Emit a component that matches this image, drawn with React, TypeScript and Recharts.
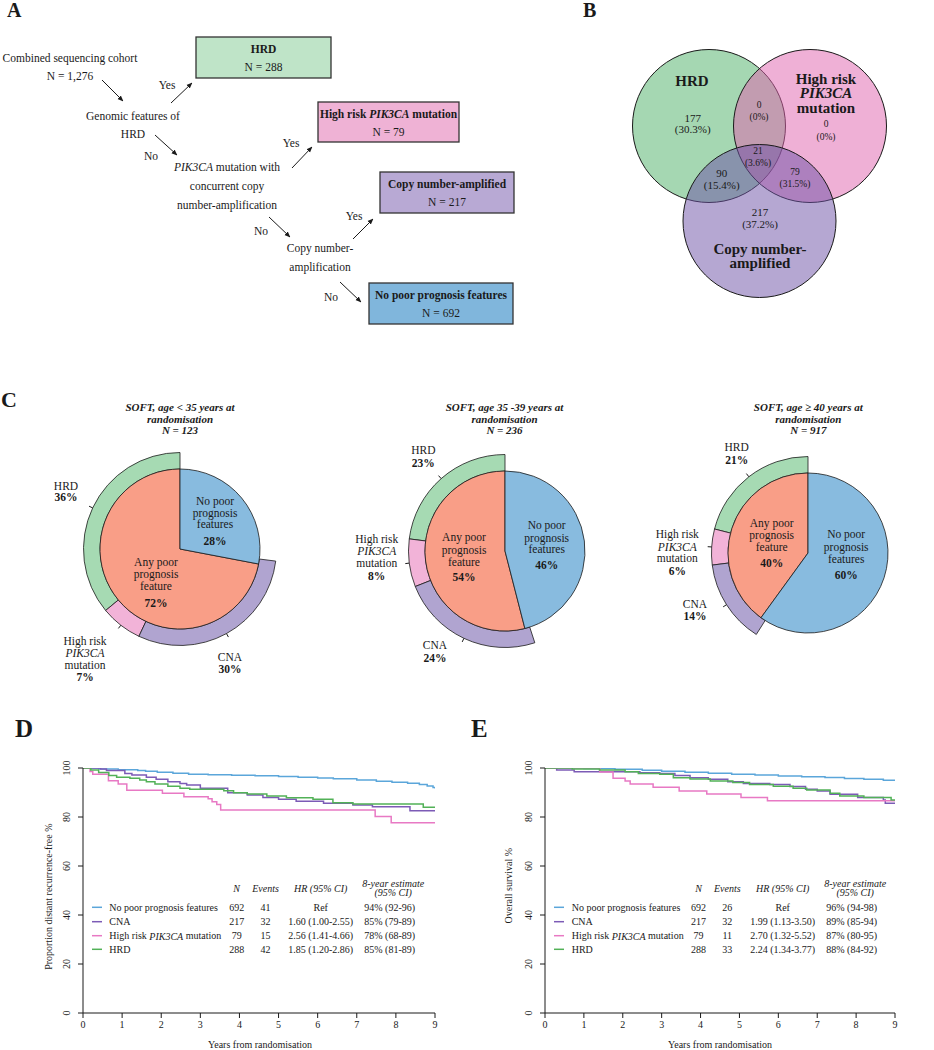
import React from "react"
import { LineChart, Line, XAxis, YAxis, PieChart, Pie, Cell, ScatterChart, Scatter } from "recharts"

const SERIF = '"Liberation Serif", "Times New Roman", serif'
const INK = "#1a1a1a"

// panel A: flowchart counts
const cohortTotal = "1,276"
const flowN = [288, 79, 217, 692]

// panel B: venn region counts and shares
const vennCounts = { hrd: 177, hrdPik: 0, pik: 0, all: 21, hrdCna: 90, pikCna: 79, cna: 217 }
const vennPct = { hrd: 30.3, hrdPik: 0, pik: 0, all: 3.6, hrdCna: 15.4, pikCna: 31.5, cna: 37.2 }

// panel C: SOFT age groups
const ageTitles = ["SOFT, age < 35 years at", "SOFT, age 35 -39 years at", "SOFT, age \u2265 40 years at"]
const ageN = [123, 236, 917]
const anyPoorPct = [72, 54, 40]
const noPoorPct = [28, 46, 60]
const hrdPct = [36, 23, 21]
const pik3caPct = [7, 8, 6]
const cnaPct = [30, 24, 14]

// panel D/E: Kaplan-Meier curves, [years, %]
const yearTicks = [0, 1, 2, 3, 4, 5, 6, 7, 8, 9]
const pctTicks = [0, 20, 40, 60, 80, 100]

const dfsNoPoor = [[0, 100], [0.4, 99.6], [0.9, 99.3], [1.4, 99.0], [1.6, 98.7], [1.9, 98.3], [2.3, 97.9], [2.7, 97.5], [3.2, 97.2], [3.8, 97.0], [4.4, 96.8], [5, 96.5], [5.5, 96.2], [6, 95.9], [6.4, 95.6], [7, 95.1], [7.5, 94.6], [7.9, 94.2], [8.3, 93.8], [8.6, 93.3], [8.8, 92.7], [8.95, 92.0], [9, 91.6]]
const dfsCna = [[0, 100], [0.45, 99.6], [0.6, 99.0], [1.07, 97.8], [1.25, 97.1], [1.62, 96.2], [1.87, 95.4], [2.17, 94.4], [2.48, 93.7], [2.65, 93.1], [3.0, 91.7], [3.7, 89.9], [4.2, 89.0], [4.6, 88.0], [5.0, 87.2], [5.45, 86.4], [6.15, 85.6], [6.9, 84.9], [7.4, 84.2], [8.36, 82.6], [9, 82.6]]
const dfsPik = [[0, 100], [0.18, 98.6], [0.25, 97.4], [0.65, 94.8], [0.9, 93.5], [1.12, 90.9], [2.03, 89.7], [2.58, 88.3], [3.2, 87.4], [3.3, 86.2], [3.42, 85.1], [3.52, 82.9], [7.47, 80.2], [7.88, 77.7], [9, 77.7]]
const dfsHrd = [[0, 100], [0.2, 99.2], [0.4, 98.2], [0.66, 96.9], [0.86, 96.2], [1.2, 95.8], [1.45, 95.1], [1.62, 94.4], [1.84, 93.5], [2.17, 92.6], [2.48, 91.7], [2.73, 91.3], [3.6, 90.7], [3.85, 89.9], [4.2, 89.4], [4.7, 88.6], [5.2, 87.9], [5.88, 87.2], [6.39, 85.8], [6.9, 85.3], [8.7, 84.0], [9, 84.0]]

const osNoPoor = [[0, 100], [1, 99.8], [1.8, 99.5], [2.5, 99.1], [3, 98.7], [3.6, 98.3], [4.2, 97.9], [4.8, 97.5], [5.4, 97.1], [6, 96.7], [6.6, 96.4], [7.2, 96.1], [7.7, 95.7], [8.2, 95.4], [8.7, 95.0], [9, 94.8]]
const osCna = [[0, 100], [0.3, 99.2], [0.75, 98.5], [2.44, 98.1], [2.95, 97.8], [3.34, 96.9], [3.73, 96.0], [4.2, 95.4], [4.7, 94.4], [5.1, 93.7], [5.78, 93.3], [6.3, 92.4], [6.7, 91.3], [7.0, 90.6], [7.33, 89.3], [8.04, 88.0], [8.7, 86.9], [8.75, 85.6], [9, 85.6]]
const osPik = [[0, 100], [1.41, 98.4], [1.75, 95.8], [2.06, 94.7], [2.19, 93.5], [2.78, 92.1], [3.45, 90.6], [4.16, 89.4], [5.04, 88.0], [5.72, 86.6], [9, 86.6]]
const osHrd = [[0, 100], [0.7, 99.6], [1.4, 99.2], [2.06, 98.5], [2.4, 97.8], [2.95, 97.4], [3.3, 96.0], [3.73, 95.5], [4.25, 94.7], [4.83, 94.1], [5.26, 93.3], [5.87, 92.6], [6.38, 91.7], [6.73, 91.0], [7.33, 89.7], [7.58, 88.6], [8.2, 88.0], [8.9, 86.9], [9, 86.9]]

const kmNames = ["No poor prognosis features", "CNA", "High risk PIK3CA mutation", "HRD"]
const kmColors = ["#5ba6da", "#7c5bb6", "#e879c4", "#52b157"]
const groupN = [692, 217, 79, 288]
const dfsEvents = [41, 32, 15, 42]
const dfsHR = ["Ref", "1.60 (1.00-2.55)", "2.56 (1.41-4.66)", "1.85 (1.20-2.86)"]
const dfsEst = ["94% (92-96)", "85% (79-89)", "78% (68-89)", "85% (81-89)"]
const osEvents = [26, 32, 11, 33]
const osHR = ["Ref", "1.99 (1.13-3.50)", "2.70 (1.32-5.52)", "2.24 (1.34-3.77)"]
const osEst = ["96% (94-98)", "89% (85-94)", "87% (80-95)", "88% (84-92)"]

const toPts = (arr: number[][]) => arr.map(([t, s]) => ({ t, s }))

// colours
const C_GREEN = "#a6dab3"
const C_PINK = "#f2b3d8"
const C_PURPLE = "#b0a4d0"
const C_BLUE = "#88bbdf"
const C_SALMON = "#f99e87"

function T({ x, y, children, size = 11.5, bold = false, italic = false, anchor = "middle" }: any) {
  return (
    <text x={x} y={y} fontSize={size} fontWeight={bold ? "bold" : "normal"} fontStyle={italic ? "italic" : "normal"}
      textAnchor={anchor} dominantBaseline="central" fill={INK}>
      {children}
    </text>
  )
}

const It = ({ children }: any) => <tspan fontStyle="italic">{children}</tspan>

function Arrow({ x1, y1, x2, y2 }: any) {
  return <line x1={x1} y1={y1} x2={x2} y2={y2} stroke={INK} strokeWidth={1} markerEnd="url(#ah)" />
}

function Box({ x, y, w, h, fill, title, n }: any) {
  return (
    <g>
      <rect x={x} y={y} width={w} height={h} fill={fill} stroke="#333" strokeWidth={1.3} />
      <T x={x + w / 2} y={y + 12} bold>{title}</T>
      <T x={x + w / 2} y={y + 30}>N = {n}</T>
    </g>
  )
}

function RotTick(props: any) {
  const { x, y, payload } = props
  const tx = x - 6
  return (
    <text x={tx} y={y} transform={`rotate(-90 ${tx} ${y})`} textAnchor="middle" fontSize={10} fill={INK} fontFamily={SERIF}>
      {payload.value}
    </text>
  )
}

function KMChart({ left, width, series }: any) {
  return (
    <div style={{ position: "absolute", left, top: 750 }}>
      <LineChart width={width} height={299} margin={{ top: 18, right: 10, bottom: 0, left: 0 }}>
        <XAxis type="number" dataKey="t" domain={[0, 9]} ticks={yearTicks} allowDataOverflow tickSize={5} tickMargin={3}
          height={36} axisLine={{ stroke: INK }} tickLine={{ stroke: INK }}
          tick={{ fontSize: 10, fill: INK, fontFamily: SERIF }} />
        <YAxis type="number" domain={[0, 100]} ticks={pctTicks} allowDataOverflow width={50} tickSize={5} tickMargin={2}
          axisLine={{ stroke: INK }} tickLine={{ stroke: INK }} tick={<RotTick />} />
        {series.map((s: number[][], i: number) => (
          <Line key={i} data={toPts(s)} dataKey="s" type="stepAfter" stroke={kmColors[i]} strokeWidth={1.5}
            dot={false} activeDot={false} isAnimationActive={false} />
        ))}
      </LineChart>
    </div>
  )
}

function KMLegend({ segX, labelX, nX, evX, hrX, estX, events, hrs, ests }: any) {
  const rows = [907.3, 921.7, 935.7, 949.3]
  return (
    <g>
      <T x={nX} y={888.7} size={10} italic>N</T>
      <T x={evX} y={888.7} size={10} italic>Events</T>
      <T x={hrX} y={888.7} size={10} italic>HR (95% CI)</T>
      <T x={estX + 3.5} y={883.3} size={10} italic>8-year estimate</T>
      <T x={estX + 3.5} y={892.7} size={10} italic>(95% CI)</T>
      {rows.map((y, i) => (
        <g key={i}>
          <line x1={segX} x2={segX + 10} y1={y} y2={y} stroke={kmColors[i]} strokeWidth={1.5} />
          <T x={labelX} y={y} size={10} anchor="start">
            {i === 2 ? <>High risk <It>PIK3CA</It> mutation</> : kmNames[i]}
          </T>
          <T x={nX} y={y} size={10}>{groupN[i]}</T>
          <T x={evX} y={y} size={10}>{events[i]}</T>
          <T x={hrX} y={y} size={10}>{hrs[i]}</T>
          <T x={estX} y={y} size={10}>{ests[i]}</T>
        </g>
      ))}
    </g>
  )
}

const ringTick = (p: any) => {
  if (p.index === 3) return null
  const a = (-p.midAngle * Math.PI) / 180
  const r0 = p.outerRadius
  const r1 = p.outerRadius + 4
  return (
    <line x1={p.cx + r0 * Math.cos(a)} y1={p.cy + r0 * Math.sin(a)} x2={p.cx + r1 * Math.cos(a)} y2={p.cy + r1 * Math.sin(a)}
      stroke={INK} strokeWidth={1} />
  )
}

function SoftPie({ i, left, top }: any) {
  const inner = [{ name: "Any poor prognosis feature", v: anyPoorPct[i] }, { name: "No poor prognosis features", v: noPoorPct[i] }]
  const ring = [
    { name: "HRD", v: hrdPct[i] },
    { name: "High risk PIK3CA mutation", v: pik3caPct[i] },
    { name: "CNA", v: cnaPct[i] },
    { name: "", v: 100 - hrdPct[i] - pik3caPct[i] - cnaPct[i] },
  ]
  const ringFill = [C_GREEN, C_PINK, C_PURPLE, "none"]
  return (
    <div style={{ position: "absolute", left, top }}>
      <PieChart width={240} height={240} margin={{ top: 0, right: 0, bottom: 0, left: 0 }}>
        <Pie data={ring} dataKey="v" cx={120} cy={120} innerRadius={80} outerRadius={96.5} startAngle={90} endAngle={450}
          isAnimationActive={false} label={ringTick} labelLine={false}>
          {ring.map((_, k) => (
            <Cell key={k} fill={ringFill[k]} stroke={k === 3 ? "none" : INK} strokeWidth={0.8} />
          ))}
        </Pie>
        <Pie data={inner} dataKey="v" cx={120} cy={120} outerRadius={80} startAngle={90} endAngle={450} isAnimationActive={false}>
          <Cell fill={C_SALMON} stroke={INK} strokeWidth={0.8} />
          <Cell fill={C_BLUE} stroke={INK} strokeWidth={0.8} />
        </Pie>
      </PieChart>
    </div>
  )
}

// venn circle geometry (page px)
const vennCircles = [
  { set: "HRD", x: 709, y: 126, r: 76.5, fill: "#4baf65" },
  { set: "PIK3CA", x: 810, y: 126, r: 76.5, fill: "#df61ad" },
  { set: "CNA", x: 759.5, y: 221, r: 76.5, fill: "#6b4fa5" },
]

function PieTitle({ cx, titleY, title, n }: any) {
  return (
    <g>
      <T x={cx} y={titleY} size={11} bold italic>{title}</T>
      <T x={cx} y={titleY + 12} size={11} bold italic>randomisation</T>
      <T x={cx} y={titleY + 23} size={11} bold italic>N = {n}</T>
    </g>
  )
}

function Stack({ x, ys, lines, pct }: any) {
  return (
    <g>
      {lines.map((l: any, k: number) => (
        <T key={k} x={x} y={ys[k]} size={11.5}>{l}</T>
      ))}
      <T x={x} y={ys[lines.length]} size={11.5} bold>{pct}%</T>
    </g>
  )
}

const noPoorLines = ["No poor", "prognosis", "features"]
const anyPoorLines = ["Any poor", "prognosis", "feature"]
const pikLines = ["High risk", <It key="p">PIK3CA</It>, "mutation"]

export default function App() {
  return (
    <div style={{ position: "absolute", left: 0, top: 0, width: 934, height: 1050, background: "#fff", fontFamily: SERIF, overflow: "hidden" }}>
      {/* panel B venn */}
      <div style={{ position: "absolute", left: 620, top: 40 }}>
        <ScatterChart width={280} height={270} margin={{ top: 0, right: 0, bottom: 0, left: 0 }}>
          <XAxis type="number" dataKey="x" domain={[620, 900]} allowDataOverflow hide />
          <YAxis type="number" dataKey="y" domain={[40, 310]} allowDataOverflow reversed hide />
          <Scatter data={vennCircles} isAnimationActive={false}
            shape={(p: any) => (
              <circle cx={p.cx} cy={p.cy} r={p.payload.r} fill={p.payload.fill} fillOpacity={0.5} stroke={INK} strokeWidth={1} />
            )} />
        </ScatterChart>
      </div>

      {/* panel C pies */}
      <SoftPie i={0} left={60} top={429} />
      <SoftPie i={1} left={384.5} top={430.5} />
      <SoftPie i={2} left={688.3} top={433.3} />

      {/* panels D and E */}
      <KMChart left={33} width={412} series={[dfsNoPoor, dfsCna, dfsPik, dfsHrd]} />
      <KMChart left={495} width={410} series={[osNoPoor, osCna, osPik, osHrd]} />

      <svg width={934} height={1050} style={{ position: "absolute", left: 0, top: 0, pointerEvents: "none" }} fontFamily={SERIF}>
        <defs>
          <marker id="ah" viewBox="0 0 10 10" refX="9" refY="5" markerWidth="6" markerHeight="6" orient="auto">
            <path d="M0,1 L10,5 L0,9 z" fill={INK} />
          </marker>
        </defs>

        {/* panel letters */}
        <T x={7} y={10} size={20} bold anchor="start">A</T>
        <T x={583} y={10} size={20} bold anchor="start">B</T>
        <T x={1} y={399} size={22} bold anchor="start">C</T>
        <T x={15} y={728.5} size={25} bold anchor="start">D</T>
        <T x={471} y={728.5} size={25} bold anchor="start">E</T>

        {/* panel A flowchart */}
        <T x={70} y={57.5}>Combined sequencing cohort</T>
        <T x={70} y={76}>N = {cohortTotal}</T>
        <Arrow x1={102} y1={80} x2={123} y2={101} />
        <T x={167} y={85}>Yes</T>
        <Arrow x1={171} y1={103} x2={192} y2={83} />
        <Box x={196} y={37} w={135} h={41} fill="#bfe4c8" title="HRD" n={flowN[0]} />
        <T x={133} y={116}>Genomic features of</T>
        <T x={133} y={134}>HRD</T>
        <Arrow x1={155} y1={135} x2={177} y2={155} />
        <T x={151} y={156}>No</T>
        <T x={227} y={167}><It>PIK3CA</It> mutation with</T>
        <T x={227} y={186}>concurrent copy</T>
        <T x={227} y={205}>number-amplification</T>
        <T x={291} y={143}>Yes</T>
        <Arrow x1={292} y1={168} x2={312} y2={147} />
        <Box x={318} y={102} w={141} h={40} fill="#efb2d5" title={<>High risk <It>PIK3CA</It> mutation</>} n={flowN[1]} />
        <Arrow x1={269} y1={217} x2={290} y2={237} />
        <T x={261} y={231}>No</T>
        <T x={320} y={248}>Copy number-</T>
        <T x={320} y={267}>amplification</T>
        <T x={354} y={216}>Yes</T>
        <Arrow x1={353} y1={239} x2={373} y2={219} />
        <Box x={380} y={172} w={134} h={41} fill="#b8a9d4" title="Copy number-amplified" n={flowN[2]} />
        <T x={331} y={297}>No</T>
        <Arrow x1={340} y1={282} x2={361} y2={302} />
        <Box x={369} y={283} w={144} h={41} fill="#80b6dc" title="No poor prognosis features" n={flowN[3]} />

        {/* panel B labels */}
        <T x={692} y={81} size={15} bold>HRD</T>
        <T x={826} y={79} size={15} bold>High risk</T>
        <T x={826} y={93} size={15} bold italic>PIK3CA</T>
        <T x={826} y={107.7} size={15} bold>mutation</T>
        <T x={760} y={249.3} size={15} bold>Copy number-</T>
        <T x={760} y={263.3} size={15} bold>amplified</T>
        <T x={692.7} y={117.7} size={11}>{vennCounts.hrd}</T>
        <T x={692.7} y={129.3} size={11}>({vennPct.hrd}%)</T>
        <T x={759} y={105} size={9.5}>{vennCounts.hrdPik}</T>
        <T x={759} y={116.7} size={9.5}>({vennPct.hrdPik}%)</T>
        <T x={826} y={124} size={9.5}>{vennCounts.pik}</T>
        <T x={826} y={136.7} size={9.5}>({vennPct.pik}%)</T>
        <T x={758} y={150.7} size={9.5}>{vennCounts.all}</T>
        <T x={758} y={162.7} size={9.5}>({vennPct.all}%)</T>
        <T x={721.7} y={172.7} size={11}>{vennCounts.hrdCna}</T>
        <T x={721.7} y={185} size={11}>({vennPct.hrdCna}%)</T>
        <T x={795} y={172.3} size={9.5}>{vennCounts.pikCna}</T>
        <T x={795} y={184.3} size={9.5}>({vennPct.pikCna}%)</T>
        <T x={760} y={212} size={11}>{vennCounts.cna}</T>
        <T x={760} y={224} size={11}>({vennPct.cna}%)</T>

        {/* panel C labels */}
        <PieTitle cx={180} titleY={407} title={ageTitles[0]} n={ageN[0]} />
        <PieTitle cx={504.5} titleY={407} title={ageTitles[1]} n={ageN[1]} />
        <PieTitle cx={808.3} titleY={407} title={ageTitles[2]} n={ageN[2]} />

        <Stack x={66} ys={[485.7, 496.7]} lines={["HRD"]} pct={hrdPct[0]} />
        <Stack x={215} ys={[500.7, 512.7, 524, 540.7]} lines={noPoorLines} pct={noPoorPct[0]} />
        <Stack x={156} ys={[561.7, 574, 586, 602.7]} lines={anyPoorLines} pct={anyPoorPct[0]} />
        <Stack x={85} ys={[640.7, 652.7, 664.7, 677.3]} lines={pikLines} pct={pik3caPct[0]} />
        <Stack x={230} ys={[656.7, 669.3]} lines={["CNA"]} pct={cnaPct[0]} />

        <Stack x={423.3} ys={[450, 462.7]} lines={["HRD"]} pct={hrdPct[1]} />
        <Stack x={376.7} ys={[539, 550.7, 562.7, 576]} lines={pikLines} pct={pik3caPct[1]} />
        <Stack x={435} ys={[645, 657.5]} lines={["CNA"]} pct={cnaPct[1]} />
        <Stack x={464} ys={[537.3, 550, 561.7, 577.3]} lines={anyPoorLines} pct={anyPoorPct[1]} />
        <Stack x={546.7} ys={[525, 537.7, 549.3, 565]} lines={noPoorLines} pct={noPoorPct[1]} />

        <Stack x={736.7} ys={[447.3, 460]} lines={["HRD"]} pct={hrdPct[2]} />
        <Stack x={677.3} ys={[534.3, 546.7, 558.3, 570.7]} lines={pikLines} pct={pik3caPct[2]} />
        <Stack x={695} ys={[604, 616]} lines={["CNA"]} pct={cnaPct[2]} />
        <Stack x={771.7} ys={[522.7, 535, 546.7, 562.7]} lines={anyPoorLines} pct={anyPoorPct[2]} />
        <Stack x={846.2} ys={[534, 546.7, 558.7, 574.7]} lines={noPoorLines} pct={noPoorPct[2]} />

        {/* panel D/E axis titles and legend tables */}
        <T x={260} y={1044.5} size={10}>Years from randomisation</T>
        <T x={720} y={1044.5} size={10}>Years from randomisation</T>
        <g transform="rotate(-90 49 896.7)">
          <T x={49} y={896.7} size={10}>Proportion distant recurrence-free %</T>
        </g>
        <g transform="rotate(-90 508.3 885.7)">
          <T x={508.3} y={885.7} size={10}>Overall survival %</T>
        </g>
        <KMLegend segX={92} labelX={109.3} nX={236.7} evX={265.5} hrX={320.7} estX={389.7}
          events={dfsEvents} hrs={dfsHR} ests={dfsEst} />
        <KMLegend segX={554} labelX={571.7} nX={698.5} evX={727.3} hrX={782.7} estX={851.7}
          events={osEvents} hrs={osHR} ests={osEst} />
      </svg>
    </div>
  )
}
